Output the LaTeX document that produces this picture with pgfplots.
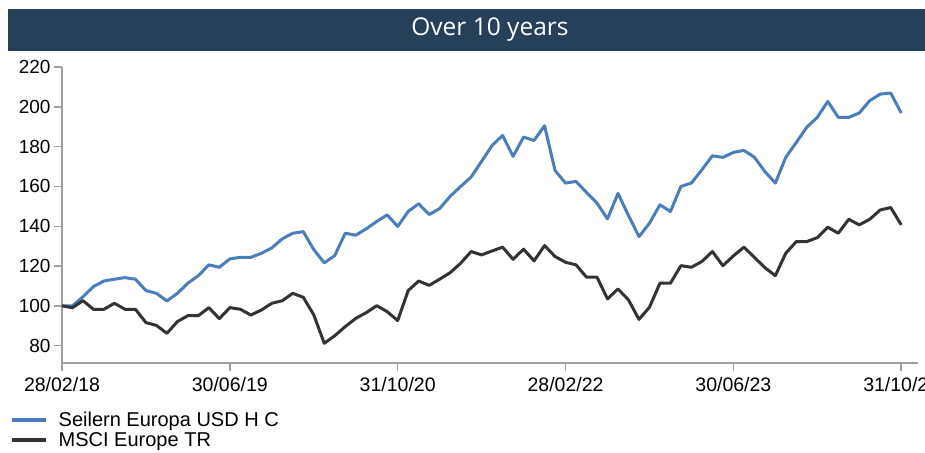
\documentclass[border=0pt]{standalone}
\usepackage{pgfplots}
\pgfplotsset{compat=1.18}
\usepackage{fontspec}
\setmainfont{Liberation Sans}
\newfontfamily\titlefont{Open Sans}
\definecolor{navy}{HTML}{26405A}
\definecolor{sblue}{HTML}{4A7EBB}
\definecolor{sblack}{HTML}{333333}
\definecolor{axgray}{HTML}{A0A0A0}
\begin{document}
\begin{tikzpicture}
\useasboundingbox (0pt,0pt) rectangle (925pt,-452pt);
\fill[navy] (8pt,-9pt) rectangle (925pt,-51pt);
\node[text=white, font=\titlefont\fontsize{24.5pt}{28pt}\selectfont] at (490pt,-30pt) {Over 10 years};
\begin{axis}[
  at={(62pt,-363pt)}, anchor=south west,
  scale only axis, width=856pt, height=296pt,
  xmin=0, xmax=81.6, ymin=71.3, ymax=220,
  axis x line=bottom, axis y line=left,
  axis line style={draw=axgray, line width=1.5pt, -},
  tick style={draw=axgray, line width=1.5pt},
  tick align=outside, major tick length=8pt,
  xtick={0,16,32,48,64,80},
  xticklabels={28/02/18,30/06/19,31/10/20,28/02/22,30/06/23,31/10/24},
  ytick={80,100,...,220},
  /pgf/number format/assume math mode=true,
  x tick label style={font=\fontsize{19.5pt}{22pt}\selectfont, yshift=-3pt},
  y tick label style={font=\fontsize{19pt}{22pt}\selectfont},
  legend style={at={(axis description cs:0,0)}, anchor=north west, xshift=-52pt, yshift=-47pt,
    draw=none, fill=none, font=\fontsize{20pt}{23pt}\selectfont, row sep=0pt,
    inner sep=0pt, /tikz/every odd column/.append style={column sep=9pt}},
  legend cell align=left,
  legend image code/.code={\draw[#1, line width=3.5pt] (0pt,0pt) -- (34pt,0pt);},
]
\addplot[sblue, line width=3pt, line join=round] coordinates {
(0,100)(1,100)(2,104.6)(3,109.7)(4,112.5)(5,113.4)(6,114.2)(7,113.4)(8,107.7)(9,106.3)
(10,102.5)(11,106.3)(12,111.4)(13,115.2)(14,120.6)(15,119.4)(16,123.6)(17,124.4)(18,124.4)(19,126.4)
(20,129.1)(21,133.7)(22,136.5)(23,137.3)(24,128.3)(25,121.6)(26,125.3)(27,136.5)(28,135.5)(29,138.7)
(30,142.4)(31,145.7)(32,139.9)(33,147.4)(34,151.3)(35,145.9)(36,148.9)(37,155)(38,160)(39,164.7)
(40,172.6)(41,180.6)(42,185.6)(43,175.1)(44,184.8)(45,183.1)(46,190.5)(47,168)(48,161.7)(49,162.5)
(50,157)(51,151.6)(52,143.7)(53,156.5)(54,145.4)(55,134.8)(56,141.5)(57,150.8)(58,147.4)(59,160)
(60,161.7)(61,168.4)(62,175.4)(63,174.6)(64,177.1)(65,178.1)(66,174.7)(67,167.5)(68,161.7)(69,174.7)
(70,182.1)(71,189.8)(72,194.7)(73,202.7)(74,194.7)(75,194.7)(76,196.9)(77,203.1)(78,206.4)(79,206.9)
(80,196.9)};
\addlegendentry{Seilern Europa USD H C}
\addplot[sblack, line width=3pt, line join=round] coordinates {
(0,100)(1,99.1)(2,102.6)(3,98.3)(4,98.3)(5,101.3)(6,98.3)(7,98.3)(8,91.6)(9,90.2)
(10,86.2)(11,92.1)(12,95.1)(13,95.1)(14,99.1)(15,93.6)(16,99.1)(17,98.3)(18,95.4)(19,97.9)
(20,101.3)(21,102.6)(22,106.3)(23,104.3)(24,95.5)(25,81.2)(26,85)(27,89.6)(28,93.7)(29,96.6)
(30,100.1)(31,97.1)(32,92.6)(33,107.7)(34,112.5)(35,110.3)(36,113.4)(37,116.7)(38,121.4)(39,127.3)
(40,125.6)(41,127.6)(42,129.5)(43,123.4)(44,128.5)(45,122.6)(46,130.3)(47,124.8)(48,121.9)(49,120.6)
(50,114.4)(51,114.4)(52,103.5)(53,108.5)(54,103)(55,93.2)(56,99.3)(57,111.4)(58,111.4)(59,120.2)
(60,119.4)(61,122.3)(62,127.3)(63,120.2)(64,125.1)(65,129.5)(66,124.4)(67,119.2)(68,115.2)(69,126.5)
(70,132.3)(71,132.3)(72,134.3)(73,139.5)(74,136.5)(75,143.5)(76,140.7)(77,143.5)(78,148.2)(79,149.4)
(80,140.7)};
\addlegendentry{MSCI Europe TR}
\end{axis}
\end{tikzpicture}
\end{document}
